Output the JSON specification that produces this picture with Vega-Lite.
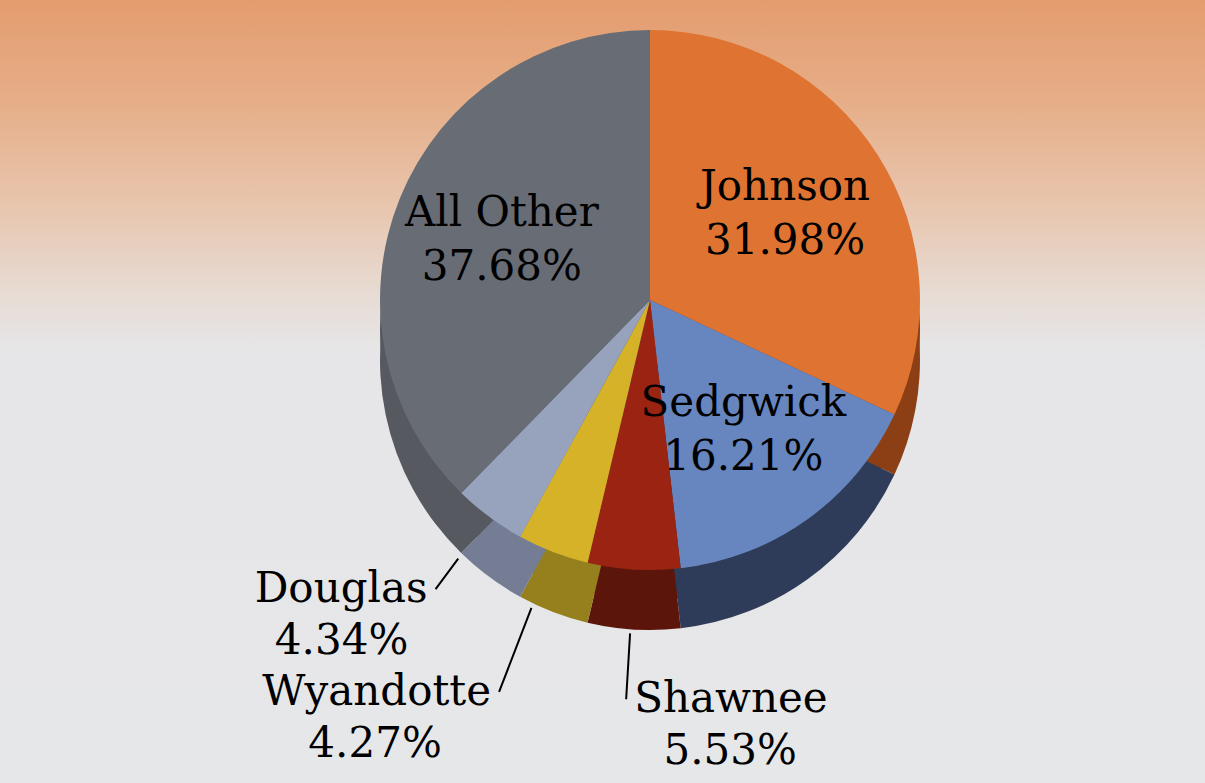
{
  "$schema": "https://vega.github.io/schema/vega-lite/v6.json",
  "description": "Share by county, 3D-style pie with labels",
  "width": 1205,
  "height": 783,
  "padding": 0,
  "autosize": "none",
  "background": "#E6E7E9",
  "config": {
    "view": {"stroke": null},
    "text": {"font": "DejaVu Serif", "fontSize": 42, "fill": "#000000", "baseline": "middle"}
  },
  "layer": [
    {
      "data": {"values": [{}]},
      "mark": {
        "type": "rect",
        "fill": {
          "gradient": "linear",
          "x1": 0, "y1": 0, "x2": 0, "y2": 1,
          "stops": [
            {"offset": 0, "color": "#E49C6E"},
            {"offset": 0.13, "color": "#E6AE88"},
            {"offset": 0.26, "color": "#E8C5AD"},
            {"offset": 0.38, "color": "#E7DCD5"},
            {"offset": 0.45, "color": "#E6E6E8"},
            {"offset": 1, "color": "#E6E7E9"}
          ]
        }
      },
      "encoding": {}
    },
    {
      "data": {
        "values": [
          {"county": "Johnson", "share": 0.3198, "order": 1},
          {"county": "Sedgwick", "share": 0.1621, "order": 2},
          {"county": "Shawnee", "share": 0.0553, "order": 3},
          {"county": "Wyandotte", "share": 0.0427, "order": 4},
          {"county": "Douglas", "share": 0.0434, "order": 5},
          {"county": "All Other", "share": 0.3768, "order": 6}
        ]
      },
      "encoding": {
        "theta": {"field": "share", "type": "quantitative", "stack": true},
        "order": {"field": "order", "type": "quantitative"}
      },
      "layer": [
        {
          "mark": {"type": "arc", "radius": 270, "x": 650, "y": 330},
          "encoding": {
            "color": {
              "field": "county", "type": "nominal", "legend": null,
              "scale": {
                "domain": ["Johnson", "Sedgwick", "Shawnee", "Wyandotte", "Douglas", "All Other"],
                "range": ["#8C3F14", "#2F3C59", "#5C150B", "#95801D", "#747D94", "#56595F"]
              }
            }
          }
        },
        {
          "mark": {"type": "arc", "radius": 270, "x": 650, "y": 360},
          "encoding": {
            "color": {
              "field": "county", "type": "nominal", "legend": null,
              "scale": {
                "domain": ["Johnson", "Sedgwick", "Shawnee", "Wyandotte", "Douglas", "All Other"],
                "range": ["#8C3F14", "#2F3C59", "#5C150B", "#95801D", "#747D94", "#56595F"]
              }
            }
          }
        },
        {
          "mark": {"type": "arc", "radius": 270, "x": 650, "y": 300},
          "encoding": {
            "color": {
              "field": "county", "type": "nominal", "legend": null,
              "scale": {
                "domain": ["Johnson", "Sedgwick", "Shawnee", "Wyandotte", "Douglas", "All Other"],
                "range": ["#DF7331", "#6786BF", "#9A2411", "#D5B228", "#97A3BD", "#686C75"]
              }
            }
          }
        },
        {
          "mark": {"type": "text", "radius": 160, "x": 650, "y": 300, "dy": -27},
          "encoding": {
            "detail": {"field": "county"},
            "text": {"field": "county"},
            "opacity": {
              "condition": {"test": "datum.county === 'Johnson' || datum.county === 'Sedgwick' || datum.county === 'All Other'", "value": 1},
              "value": 0
            }
          }
        },
        {
          "mark": {"type": "text", "radius": 160, "x": 650, "y": 300, "dy": 27},
          "encoding": {
            "detail": {"field": "county"},
            "text": {"field": "share", "type": "quantitative", "format": ".2%"},
            "opacity": {
              "condition": {"test": "datum.county === 'Johnson' || datum.county === 'Sedgwick' || datum.county === 'All Other'", "value": 1},
              "value": 0
            }
          }
        },
        {
          "mark": {"type": "arc", "radius": 360, "radius2": 322, "padAngle": 3, "filled": false, "stroke": "#000000", "strokeWidth": 2, "x": 650, "y": 300},
          "encoding": {
            "detail": {"field": "county"},
            "opacity": {"condition": {"test": "datum.county === 'Douglas'", "value": 1}, "value": 0}
          }
        },
        {
          "mark": {"type": "text", "radius": 360, "x": 650, "y": 300, "align": "right", "dx": -8},
          "encoding": {
            "detail": {"field": "county"},
            "text": {"field": "county"},
            "opacity": {"condition": {"test": "datum.county === 'Douglas'", "value": 1}, "value": 0}
          }
        },
        {
          "mark": {"type": "text", "radius": 360, "x": 650, "y": 300, "align": "center", "dx": -94, "dy": 52},
          "encoding": {
            "detail": {"field": "county"},
            "text": {"field": "share", "type": "quantitative", "format": ".2%"},
            "opacity": {"condition": {"test": "datum.county === 'Douglas'", "value": 1}, "value": 0}
          }
        },
        {
          "mark": {"type": "arc", "radius": 420, "radius2": 330, "padAngle": 3, "filled": false, "stroke": "#000000", "strokeWidth": 2, "x": 650, "y": 300},
          "encoding": {
            "detail": {"field": "county"},
            "opacity": {"condition": {"test": "datum.county === 'Wyandotte'", "value": 1}, "value": 0}
          }
        },
        {
          "mark": {"type": "text", "radius": 420, "x": 650, "y": 300, "align": "right", "dx": -8},
          "encoding": {
            "detail": {"field": "county"},
            "text": {"field": "county"},
            "opacity": {"condition": {"test": "datum.county === 'Wyandotte'", "value": 1}, "value": 0}
          }
        },
        {
          "mark": {"type": "text", "radius": 420, "x": 650, "y": 300, "align": "center", "dx": -124, "dy": 52},
          "encoding": {
            "detail": {"field": "county"},
            "text": {"field": "share", "type": "quantitative", "format": ".2%"},
            "opacity": {"condition": {"test": "datum.county === 'Wyandotte'", "value": 1}, "value": 0}
          }
        },
        {
          "mark": {"type": "arc", "radius": 400, "radius2": 334, "padAngle": 3, "filled": false, "stroke": "#000000", "strokeWidth": 2, "x": 650, "y": 300},
          "encoding": {
            "detail": {"field": "county"},
            "opacity": {"condition": {"test": "datum.county === 'Shawnee'", "value": 1}, "value": 0}
          }
        },
        {
          "mark": {"type": "text", "radius": 400, "x": 650, "y": 300, "align": "left", "dx": 8},
          "encoding": {
            "detail": {"field": "county"},
            "text": {"field": "county"},
            "opacity": {"condition": {"test": "datum.county === 'Shawnee'", "value": 1}, "value": 0}
          }
        },
        {
          "mark": {"type": "text", "radius": 400, "x": 650, "y": 300, "align": "center", "dx": 104, "dy": 52},
          "encoding": {
            "detail": {"field": "county"},
            "text": {"field": "share", "type": "quantitative", "format": ".2%"},
            "opacity": {"condition": {"test": "datum.county === 'Shawnee'", "value": 1}, "value": 0}
          }
        }
      ],
      "resolve": {"scale": {"color": "independent"}}
    }
  ]
}
